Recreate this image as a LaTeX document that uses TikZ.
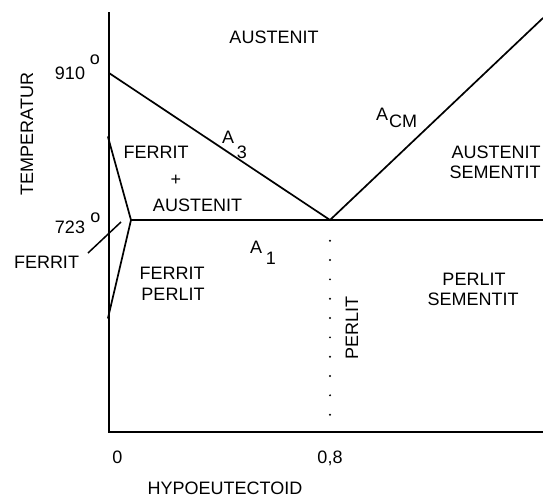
\documentclass[tikz,border=0pt]{standalone}
\usepackage{fontspec}
\setmainfont{Liberation Sans}
\usetikzlibrary{calc}

\begin{document}
\begin{tikzpicture}[
  x=1pt, y=-1pt,
  font=\fontsize{18}{20}\selectfont,
  lbl/.style={inner sep=0pt, anchor=base},
  vlbl/.style={inner sep=0pt, anchor=base, rotate=90},
  ln/.style={line width=1.7pt, line cap=round},
  axis/.style={line width=2pt}
]
\useasboundingbox (0,0) rectangle (543,498);
% --- key points ---
\coordinate (top) at (109,12);
\coordinate (orig) at (109,432);
\coordinate (xend) at (543,432);
\coordinate (t910) at (109,73);
\coordinate (eut) at (330,220);
\coordinate (cmend) at (543,18);
\coordinate (tip) at (131,220);
\coordinate (a1end) at (543,220);
\coordinate (wtop) at (108,137);
\coordinate (wbot) at (108,318);
\coordinate (pfrom) at (88,253);
\coordinate (pto) at (121,222);

% --- axes ---
\draw[axis] (top) -- (orig) -- (xend);

% --- phase lines ---
\draw[ln] (t910) -- (eut) -- (cmend);
\draw[ln] (tip) -- (a1end);
\draw[ln] (wtop) -- (tip) -- (wbot);
\draw[line width=1.5pt] (pfrom) -- (pto);
\foreach \k in {0,...,9}
  \fill ($(eut)+(0,20.7+19.33*\k)$) circle (1.1pt);

% --- labels ---
\node[lbl] (aus) at (274,43) {AUSTENIT};
\node[lbl] (t1) at (70,79) {910};
\node[lbl] (d1) at (95,64) {o};
\node[lbl] (t2) at (70,233) {723};
\node[lbl] (d2) at (95.5,222) {o};
\node[vlbl] (temp) at (33,134) {TEMPERATUR};
\node[lbl] (fer) at (46.5,268) {FERRIT};
\node[lbl] (fa1) at (156,158) {FERRIT};
\node[inner sep=0pt] (fa2) at (176,180) {+};
\node[lbl] (fa3) at (197.5,211) {AUSTENIT};
\node[lbl] (a3) at (228,143) {A};
\node[lbl] (a3s) at (242,158) {3};
\node[lbl] (acm) at (382,120) {A};
\node[lbl] (acms) at (403,127) {CM};
\node[lbl] (as1) at (496,158) {AUSTENIT};
\node[lbl] (as2) at (495,178.5) {SEMENTIT};
\node[lbl] (a1) at (256,253) {A};
\node[lbl] (a1s) at (271,264) {1};
\node[lbl] (fp1) at (172,279) {FERRIT};
\node[lbl] (fp2) at (173,300) {PERLIT};
\node[vlbl] (perl) at (358,328) {PERLIT};
\node[lbl] (ps1) at (474,285) {PERLIT};
\node[lbl] (ps2) at (473,305) {SEMENTIT};
\node[lbl] (x0) at (117.5,463) {0};
\node[lbl] (x8) at (330,463) {0,8};
\node[lbl] (hypo) at (225,494) {HYPOEUTECTOID};
\end{tikzpicture}
\end{document}
